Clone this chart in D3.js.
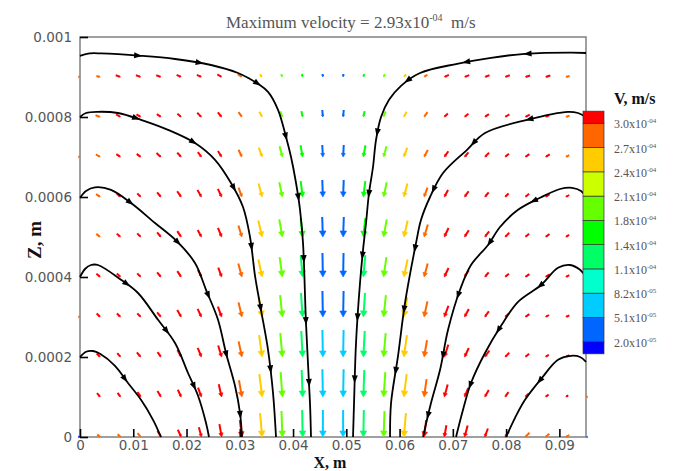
<!DOCTYPE html>
<html><head><meta charset="utf-8">
<script src="https://cdn.jsdelivr.net/npm/d3@7"></script>
<style>body{margin:0;background:#fff;} svg{display:block;}</style>
</head><body>
<svg id="c" width="676" height="471"></svg>
<script>
// ---------------- DATA ----------------
const xTicks = [0,0.01,0.02,0.03,0.04,0.05,0.06,0.07,0.08,0.09];
const xTickLabels = ["0","0.01","0.02","0.03","0.04","0.05","0.06","0.07","0.08","0.09"];
const zTicks = [0,0.0002,0.0004,0.0006,0.0008,0.001];
const zTickLabels = ["0","0.0002","0.0004","0.0006","0.0008","0.001"];

// vector grid (m)
const xGrid = [0,0.0038,0.0076,0.0114,0.0152,0.019,0.0228,0.0266,0.0304,0.0342,0.038,0.0418,0.0456,
               0.0494,0.0532,0.057,0.0608,0.0646,0.0684,0.0722,0.076,0.0798,0.0836,0.0874,0.0912,0.095];
const zGrid = [0.0009,0.0008,0.0007,0.0006,0.0005,0.0004,0.0003,0.0002,0.0001,0];

// speed (x1e-4 m/s) per row (top -> bottom), per column (left -> right)
const speedRows = [
 [0.11,0.42,0.53,0.53,0.53,0.53,0.53,0.53,0.53,0.37,0.32,0.32,0.32,0.32,0.32,0.32,0.37,0.42,0.53,0.53,0.53,0.53,0.53,0.53,0.42,0],
 [0,0.53,0.53,0.53,0.53,0.53,0.63,0.63,0.63,0.63,0.63,0.63,0.74,0.74,0.63,0.63,0.63,0.63,0.53,0.53,0.53,0.53,0.53,0.42,0.42,0],
 [0.11,0.53,0.53,0.53,0.63,0.63,0.63,0.74,0.84,1.05,1.16,1.26,1.26,1.26,1.26,1.16,1.05,0.84,0.74,0.63,0.63,0.53,0.53,0.53,0.42,0],
 [0,0.53,0.53,0.53,0.63,0.74,0.84,0.95,1.05,1.47,1.58,1.68,1.79,1.79,1.68,1.58,1.47,1.05,0.84,0.74,0.63,0.53,0.53,0.53,0.42,0],
 [0,0.53,0.53,0.53,0.63,0.74,0.84,1.05,1.26,1.79,1.89,2.00,2.11,2.11,2.00,1.89,1.79,1.37,1.05,0.84,0.74,0.63,0.53,0.53,0.42,0],
 [0,0.53,0.53,0.53,0.63,0.74,0.84,1.05,1.47,1.89,2.11,2.32,2.53,2.53,2.32,2.11,1.89,1.47,1.05,0.84,0.63,0.53,0.53,0.53,0.42,0],
 [0.11,0.53,0.53,0.53,0.63,0.84,0.95,1.16,1.58,2.11,2.32,2.53,2.74,2.74,2.53,2.32,2.11,1.68,1.26,0.95,0.74,0.53,0.53,0.42,0.42,0],
 [0,0.53,0.53,0.63,0.63,0.84,1.05,1.26,1.68,2.32,2.53,2.74,2.84,2.84,2.74,2.53,2.32,1.79,1.37,1.05,0.84,0.63,0.53,0.42,0.42,0],
 [0,0.53,0.53,0.63,0.74,0.84,1.05,1.37,1.79,2.42,2.63,2.84,2.93,2.93,2.84,2.63,2.42,1.89,1.37,1.05,0.84,0.63,0.53,0.42,0.32,0.11],
 [0.11,0.42,0.42,0.53,0.74,0.84,1.05,1.37,1.79,2.53,2.74,2.84,2.84,2.84,2.84,2.74,2.53,1.79,1.26,1.26,0.95,0.74,0.63,0.53,0.42,0.11]
];
// flow direction (degrees from +X, counter-clockwise)
const angleRows = [
 [-10,-15,-20,-20,-20,-25,-25,-30,-35,-50,-65,-75,-85,-95,-105,-115,-130,-145,-155,-158,-160,-160,-162,-162,-165,-170],
 [-15,-20,-30,-32,-35,-40,-45,-50,-55,-62,-70,-78,-85,-95,-102,-110,-118,-125,-135,-140,-145,-150,-152,-155,-160,-165],
 [-10,-30,-35,-38,-42,-48,-53,-58,-65,-70,-75,-80,-87,-93,-100,-105,-110,-118,-125,-130,-135,-140,-145,-148,-152,-170],
 [-20,-35,-42,-47,-50,-55,-60,-65,-70,-75,-78,-83,-88,-92,-97,-102,-105,-110,-118,-125,-130,-135,-140,-145,-150,-160],
 [-20,-38,-42,-46,-50,-56,-62,-68,-73,-77,-80,-84,-88,-92,-96,-100,-103,-107,-115,-122,-128,-135,-140,-143,-148,-160],
 [-20,-40,-44,-46,-50,-56,-64,-70,-75,-78,-82,-85,-89,-91,-95,-98,-102,-105,-115,-122,-130,-140,-145,-148,-152,-160],
 [-10,-45,-45,-47,-50,-60,-65,-70,-77,-80,-84,-86,-89,-91,-94,-96,-100,-102,-110,-118,-125,-138,-145,-150,-155,-170],
 [-20,-45,-50,-50,-55,-62,-68,-73,-78,-82,-85,-87,-89,-91,-93,-95,-98,-100,-108,-115,-125,-135,-140,-145,-150,-160],
 [-20,-50,-55,-58,-60,-65,-70,-77,-80,-83,-86,-88,-89,-91,-92,-94,-97,-98,-105,-112,-120,-125,-135,-140,-145,-170],
 [-10,-40,-45,-50,-60,-65,-75,-80,-83,-85,-88,-89,-90,-90,-91,-92,-95,-97,-100,-105,-110,-125,-135,-140,-150,-180]
];
// contour level index of each vector (0 = lowest band .. 10 = highest band)
const levelRows = [
 [9,9,10,10,10,10,10,10,9,8,6,5,1,1,5,6,8,9,10,10,10,10,10,10,9,9],
 [9,9,10,10,10,10,10,10,9,8,6,5,1,1,5,6,8,9,10,10,10,10,10,10,9,9],
 [9,9,10,10,10,10,10,10,9,8,6,5,1,1,5,6,8,9,10,10,10,10,10,10,9,9],
 [9,9,10,10,10,10,10,10,9,8,6,5,1,1,5,6,8,9,10,10,10,10,10,10,10,9],
 [9,9,10,10,10,10,10,10,9,8,6,5,1,1,5,6,8,9,10,10,10,10,10,10,10,9],
 [9,10,10,10,10,10,10,10,9,8,6,4,1,1,4,6,8,9,10,10,10,10,10,10,10,9],
 [9,10,10,10,10,10,10,10,9,8,6,4,1,1,4,6,8,9,10,10,10,10,10,10,10,9],
 [9,10,10,10,10,10,10,10,9,8,6,4,2,2,4,6,8,9,10,10,10,10,10,10,10,9],
 [9,10,10,10,10,10,10,10,9,8,6,4,2,2,4,6,8,9,10,10,10,10,10,10,10,9],
 [0,9,9,9,10,10,10,10,10,8,6,4,2,2,4,6,8,10,10,10,10,10,9,9,9,1]
];

// legend
const legendValues = [2.0e-5,5.1e-5,8.2e-5,1.1e-4,1.4e-4,1.8e-4,2.1e-4,2.4e-4,2.7e-4,3.0e-4];
const legendColors = ["#0000ff","#0066ff","#00ccff","#00ffcc","#00ff66","#00ff00","#66ff00","#ccff00","#ffcc00","#ff6600","#ff0000"];

// streamlines [x (m), z (m)]
const streamLeft = [
 [[0,0.000953],[0.00188,0.000959],[0.00394,0.000959],[0.01145,0.000953],[0.01784,0.000945],[0.0246,0.00093],[0.02967,0.00091],[0.03192,0.000895],[0.03342,0.000883],[0.0353,0.000863],[0.03718,0.000818],[0.03868,0.00075],[0.03962,0.0007],[0.04056,0.000635],[0.04131,0.000568],[0.04187,0.000485],[0.04243,0.000285],[0.04318,0.000085],[0.04337,0]],
 [[0,0.0008],[0.00113,0.00081],[0.00338,0.000813],[0.00713,0.00081],[0.01145,0.000793],[0.01652,0.000768],[0.02159,0.000735],[0.02535,0.000693],[0.02835,0.000635],[0.0306,0.000575],[0.03192,0.0005],[0.03286,0.000403],[0.03398,0.000318],[0.0353,0.000218],[0.03624,0.00011],[0.0368,0]],
 [[0,0.000598],[0.00113,0.000615],[0.00282,0.000624],[0.00582,0.000618],[0.00958,0.000585],[0.01408,0.000535],[0.01821,0.000489],[0.02159,0.000435],[0.02366,0.000368],[0.02591,0.000293],[0.02741,0.00021],[0.0291,0.000128],[0.03004,0.00006],[0.03042,0]],
 [[0,0.0004],[0.00094,0.00042],[0.00207,0.00043],[0.00338,0.00043],[0.0077,0.000393],[0.01089,0.00036],[0.01465,0.000293],[0.01784,0.000235],[0.02028,0.00016],[0.02216,0.000103],[0.02366,0.000035],[0.02422,0]],
 [[0,0.0002],[0.00113,0.000213],[0.00244,0.000215],[0.00376,0.000208],[0.00657,0.000178],[0.00901,0.000135],[0.01145,0.000093],[0.01371,0.000043],[0.01521,0]]
];
const streamRight = [
 [[0.095,0.00096],[0.09238,0.000961],[0.08355,0.000958],[0.07717,0.000948],[0.07079,0.000933],[0.06384,0.00091],[0.06027,0.000878],[0.05802,0.000843],[0.05652,0.0008],[0.05558,0.000743],[0.05501,0.000675],[0.05426,0.00061],[0.0537,0.000535],[0.05314,0.000468],[0.05257,0.000385],[0.05182,0.000235],[0.05145,0.000085],[0.05126,0]],
 [[0.095,0.0008],[0.0935,0.00081],[0.09163,0.000813],[0.08393,0.000793],[0.07604,0.00076],[0.07266,0.000718],[0.06816,0.00066],[0.06572,0.0006],[0.06403,0.000543],[0.06309,0.000485],[0.06102,0.000335],[0.05971,0.000203],[0.0584,0.000085],[0.05821,0]],
 [[0.095,0.0006],[0.09407,0.000615],[0.09238,0.000623],[0.09012,0.00062],[0.08637,0.000598],[0.08224,0.000568],[0.07886,0.000525],[0.07661,0.00048],[0.07341,0.00043],[0.07135,0.000368],[0.0691,0.000268],[0.0676,0.000168],[0.0659,0.000085],[0.0644,0]],
 [[0.095,0.0004],[0.09388,0.000418],[0.092,0.00043],[0.08975,0.000423],[0.08656,0.00038],[0.08224,0.000338],[0.07905,0.000278],[0.07604,0.00021],[0.07341,0.000135],[0.07191,0.000068],[0.0706,0]],
 [[0.095,0.000188],[0.09388,0.0002],[0.09219,0.000203],[0.08975,0.000193],[0.08656,0.000145],[0.08355,0.000093],[0.08168,0.000048],[0.07999,0]]
];

// ---------------- DRAW ----------------
const svg = d3.select("#c");
const x = d3.scaleLinear().domain([0,0.095]).range([80,586]);
const y = d3.scaleLinear().domain([0,0.001]).range([437,37]);
const vlen = d3.scaleLinear().domain([0,1]).range([0,9.5]); // px per 1e-4 m/s

const serif = "'Liberation Serif','Times New Roman',serif";
const sans = "'DejaVu Sans',Verdana,sans-serif";

// frame
svg.append("rect").attr("x",x(0)).attr("y",y(0.001)).attr("width",x(0.095)-x(0)).attr("height",y(0)-y(0.001))
  .attr("fill","none").attr("stroke","#808080").attr("stroke-width",1.5);

// vectors
const gv = svg.append("g");
zGrid.forEach((z,r)=>{
  xGrid.forEach((xv,c)=>{
    const s = speedRows[r][c];
    if(!s) return;
    const a = angleRows[r][c]*Math.PI/180;
    const u = s*Math.cos(a), w = s*Math.sin(a);
    const hx = x(xv), hy = y(z);
    const dx = vlen(u), dy = -vlen(w);
    const L = Math.hypot(dx,dy);
    const ux = dx/L, uy = dy/L, px = -uy, py = ux;
    const col = legendColors[levelRows[r][c]];
    const tx = hx-dx, ty = hy-dy;
    const hl = Math.max(1.5, Math.min(6, L*0.3));
    const hw = hl*0.55;
    const bx = hx-ux*hl, by = hy-uy*hl;
    gv.append("line").attr("x1",tx).attr("y1",ty).attr("x2",bx+ux*0.5).attr("y2",by+uy*0.5)
      .attr("stroke",col).attr("stroke-width",2);
    gv.append("path").attr("d",`M${hx},${hy}L${bx+px*hw},${by+py*hw}L${bx-px*hw},${by-py*hw}Z`)
      .attr("fill",col).attr("stroke",col).attr("stroke-width",0.6);
  });
});

// streamlines
const line = d3.line().x(d=>x(d[0])).y(d=>y(d[1])).curve(d3.curveCatmullRom.alpha(0.5));
const gs = svg.append("g");
streamLeft.concat(streamRight).forEach(pts=>{
  const p = gs.append("path").attr("d",line(pts)).attr("fill","none").attr("stroke","#000").attr("stroke-width",1.8);
  const node = p.node(), tot = node.getTotalLength();
  for(let l=58; l<tot-12; l+=62){
    const a = node.getPointAtLength(l), b = node.getPointAtLength(l+1);
    let ux=b.x-a.x, uy=b.y-a.y; const n=Math.hypot(ux,uy); ux/=n; uy/=n;
    const px=-uy, py=ux;
    gs.append("path").attr("d",`M${a.x+ux*4.5},${a.y+uy*4.5}L${a.x-ux*3.5+px*3},${a.y-uy*3.5+py*3}L${a.x-ux*3.5-px*3},${a.y-uy*3.5-py*3}Z`)
      .attr("fill","#000");
  }
});

// axes
const ax = d3.axisBottom(x).tickValues(xTicks).tickFormat((d,i)=>xTickLabels[i]).tickSizeInner(-8).tickSizeOuter(0).tickPadding(3);
const gx = svg.append("g").attr("transform",`translate(0,${y(0)})`).call(ax);
const ay = d3.axisLeft(y).tickValues(zTicks).tickFormat((d,i)=>zTickLabels[i]).tickSizeInner(-8).tickSizeOuter(0).tickPadding(8);
const gy = svg.append("g").attr("transform",`translate(${x(0)},0)`).call(ay);
[gx,gy].forEach(g=>{
  g.select(".domain").remove();
  g.selectAll(".tick line").attr("stroke","#000").attr("stroke-width",1.6);
  g.selectAll(".tick text").attr("fill","#555").style("font-family",sans).style("font-size","13.5px");
});

// axis titles
svg.append("text").attr("x",330).attr("y",467.5).attr("text-anchor","middle")
  .style("font-family",serif).style("font-weight","bold").style("font-size","16px").attr("fill","#111").text("X, m");
svg.append("text").attr("transform","translate(41,240) rotate(-90)").attr("text-anchor","middle")
  .style("font-family",serif).style("font-weight","bold").style("font-size","19px").attr("fill","#111").text("Z, m");

// title
const tt = svg.append("text").attr("x",226).attr("y",28).style("font-family",serif).style("font-size","17px").attr("fill","#555");
tt.append("tspan").text("Maximum velocity = 2.93x10");
tt.append("tspan").attr("dy",-7).style("font-size","10px").text("-04");
tt.append("tspan").attr("dy",7).text("\u00a0\u00a0m/s");

// colour legend
const ly = d3.scaleLinear().domain([0,legendValues.length-1]).range([341.7,123.3]);
const gl = svg.append("g");
legendColors.forEach((c,j)=>{
  const top = ly(Math.min(j, legendValues.length-0.5));
  const bot = ly(Math.max(j-1, -0.5));
  gl.append("rect").attr("x",583).attr("y",top).attr("width",21).attr("height",bot-top)
    .attr("fill",c).attr("stroke","#333").attr("stroke-width",0.7);
});
gl.append("text").attr("x",614).attr("y",104).style("font-family",serif).style("font-weight","bold")
  .style("font-size","16px").attr("fill","#111").text("V, m/s");
legendValues.forEach((v,k)=>{
  const [m,e] = v.toExponential(1).split("e");
  const ex = (e[0]==="-"?"-":"") + String(Math.abs(+e)).padStart(2,"0");
  const t = gl.append("text").attr("x",614).attr("y",ly(k)+5).style("font-family",serif)
    .style("font-size","12px").attr("fill","#555");
  t.append("tspan").text(m+"x10");
  t.append("tspan").attr("dy",-5).style("font-size","7px").text(ex);
});
</script>
</body></html>
